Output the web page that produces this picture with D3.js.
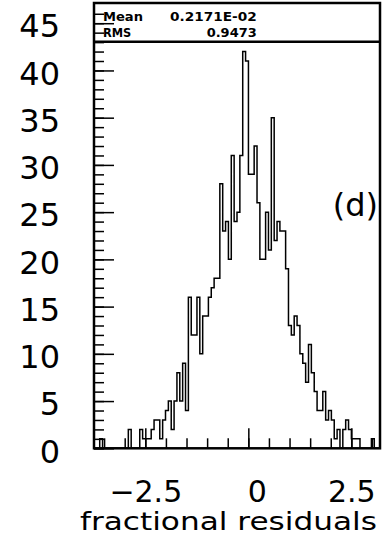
<!DOCTYPE html>
<html><head><meta charset="utf-8">
<script src="https://cdn.jsdelivr.net/npm/d3@7"></script>
<style>
html,body{margin:0;padding:0;background:#fff;}
svg{display:block;}
text{font-family:"DejaVu Sans",sans-serif;fill:#000;}
</style></head><body>
<svg id="chart" width="389" height="543"></svg>
<script>
// Histogram booking: range and number of bins
const histRange = [-3.745, 3.195];
const binCount = 100;
// Entries per bin, left to right
const counts = [
  0, 0, 1, 0, 0, 0, 0, 0, 0, 0,
  0, 0, 2, 0, 0, 0, 2, 1, 1, 1,
  2, 3, 3, 1, 3, 4, 5, 2, 5, 8,
  5, 9, 4, 16, 12, 12, 16, 10, 14, 14,
  16, 17, 18, 18, 28, 23, 24, 20, 31, 24,
  25, 31, 42, 41, 29, 29, 32, 26, 20, 20,
  25, 21, 35, 22, 24, 23, 23, 19, 13, 12,
  14, 13, 10, 9, 7, 11, 8, 6, 4, 4,
  6, 3, 4, 3, 1, 2, 0, 2, 3, 2,
  1, 1, 1, 0, 0, 0, 0, 1, 0, 0
];
const yMax = 47.14;

// Axis ticks and labels
const xTicksMinor = d3.range(-3.5, 3.01, 0.5);
const xTicksMajor = [-2.5, 0, 2.5];
const xTickLabels = ["\u22122.5", "0", "2.5"];
const yTicksMinor = d3.range(0, 47);
const yTicksMajor = d3.range(0, 46, 5);
const xTitle = "fractional residuals";
const panelTag = "(d)";

// Statistics box
const statNames = ["Mean", "RMS"];
const statValues = ["0.2171E-02", "0.9473"];

const svg = d3.select("#chart");
const frame = {left: 94, right: 380, top: 3, bottom: 448.3};

const x = d3.scaleLinear().domain(histRange).range([frame.left, frame.right]);
const y = d3.scaleLinear().domain([0, yMax]).range([frame.bottom, frame.top]);

// Histogram outline as a step path
const binW = (histRange[1] - histRange[0]) / binCount;
const pts = [[histRange[0], 0]];
counts.forEach((c, k) => {
  const a = histRange[0] + k * binW;
  pts.push([a, c], [a + binW, c]);
});
pts.push([histRange[1], 0]);
svg.append("path")
  .attr("d", d3.line().x(d => x(d[0])).y(d => y(d[1]))(pts))
  .attr("fill", "none").attr("stroke", "#000").attr("stroke-width", 1.5);

// Y ticks, drawn inward from the left edge
function ticks(g) { g.select(".domain").remove(); g.selectAll("line").attr("stroke-width", 1.5); }
svg.append("g").attr("transform", `translate(${frame.left},0)`)
  .call(d3.axisRight(y).tickValues(yTicksMinor).tickSize(10).tickFormat(""))
  .call(ticks);
svg.append("g").attr("transform", `translate(${frame.left},0)`)
  .call(d3.axisRight(y).tickValues(yTicksMajor).tickSize(20).tickFormat(""))
  .call(ticks);

// X ticks, drawn upward from the bottom edge
svg.append("g").attr("transform", `translate(0,${frame.bottom})`)
  .call(d3.axisTop(x).tickValues(xTicksMinor).tickSize(10).tickFormat(""))
  .call(ticks);
svg.append("g").attr("transform", `translate(0,${frame.bottom})`)
  .call(d3.axisTop(x).tickValues(xTicksMajor).tickSize(20).tickFormat(""))
  .call(ticks);

// Y tick labels
const yLab = svg.append("g").attr("transform", "translate(60,0)")
  .call(d3.axisLeft(y).tickValues(yTicksMajor).tickSize(0).tickPadding(0).tickFormat(d3.format("d")));
yLab.select(".domain").remove();
yLab.selectAll("text").attr("font-size", 32).attr("font-family", "DejaVu Sans")
  .attr("dy", "0.43em");

// X tick labels
const xLab = svg.append("g").attr("transform", `translate(0,${frame.bottom})`)
  .call(d3.axisBottom(x).tickValues(xTicksMajor).tickSize(0).tickPadding(32.4)
    .tickFormat((d, i) => xTickLabels[i]));
xLab.select(".domain").remove();
xLab.selectAll("text").attr("font-size", 30).attr("font-family", "DejaVu Sans")
  .attr("dx", d => d === 0 ? 8.5 : 0);

// Axis title
svg.append("text").attr("x", 80).attr("y", 530)
  .attr("font-size", 25).attr("textLength", 297).attr("lengthAdjust", "spacingAndGlyphs")
  .text(xTitle);

// Panel tag
svg.append("text").attr("x", 378).attr("y", 216).attr("text-anchor", "end")
  .attr("font-size", 32).text(panelTag);

// Statistics box across the top of the frame
svg.append("line").attr("x1", frame.left).attr("x2", frame.right)
  .attr("y1", 41.7).attr("y2", 41.7).attr("stroke", "#000").attr("stroke-width", 2.5);
const nameW = [40, 28.3], valW = [86.7, 50];
statNames.forEach((n, i) => {
  const base = 20.7 + i * 16.6;
  svg.append("text").attr("x", 103).attr("y", base)
    .attr("font-family", "Liberation Sans").attr("font-weight", "bold").attr("font-size", 11.5)
    .attr("textLength", nameW[i]).attr("lengthAdjust", "spacingAndGlyphs").text(n);
  svg.append("text").attr("x", 256.7 - valW[i]).attr("y", base)
    .attr("font-family", "Liberation Sans").attr("font-weight", "bold").attr("font-size", 11.5)
    .attr("textLength", valW[i]).attr("lengthAdjust", "spacingAndGlyphs").text(statValues[i]);
});

// Frame
svg.append("rect").attr("x", frame.left).attr("y", frame.top)
  .attr("width", frame.right - frame.left).attr("height", frame.bottom - frame.top)
  .attr("fill", "none").attr("stroke", "#000").attr("stroke-width", 2.5);
</script>
</body></html>
